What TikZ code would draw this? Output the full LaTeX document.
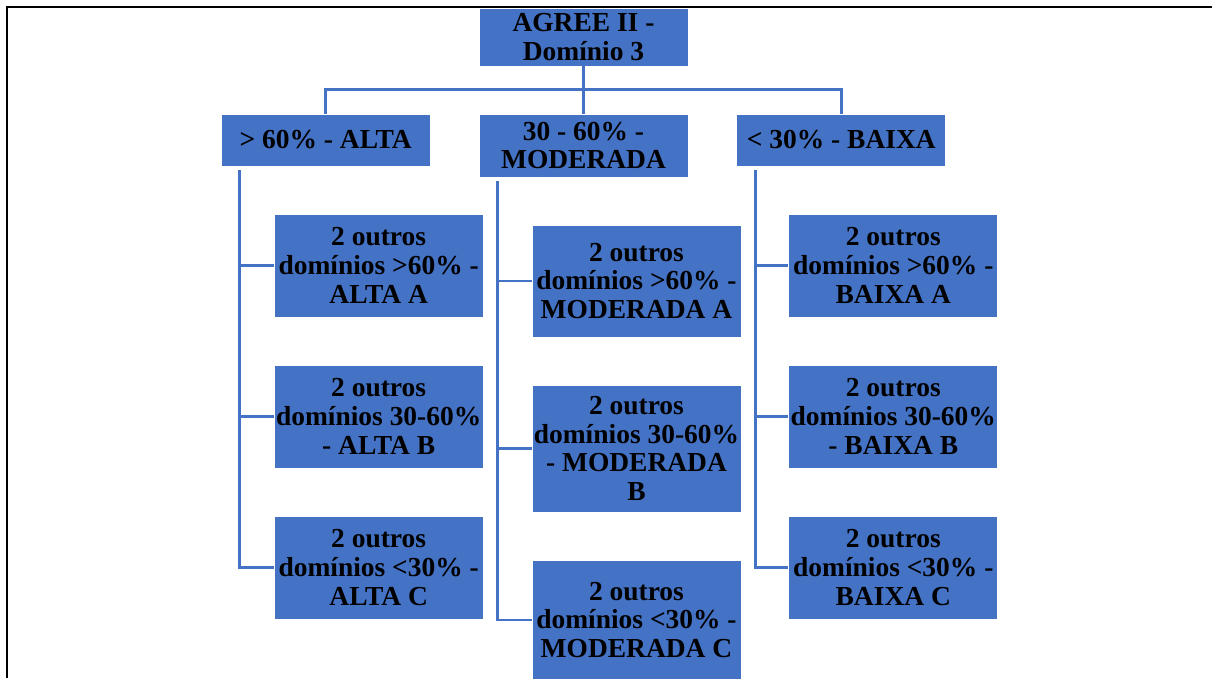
\documentclass[tikz,border=0pt]{standalone}
\usepackage{fontspec}
\setmainfont{Liberation Serif}
\usetikzlibrary{positioning, calc}
\definecolor{sBlue}{HTML}{4472C4}

\begin{document}
\begin{tikzpicture}[node distance=35.4pt,
    box/.style={draw=white, line width=0.6pt, fill=sBlue, align=center,
      minimum width=156.75pt, inner xsep=1pt, inner ysep=2pt,
      font=\fontsize{20.6}{21.5}\selectfont\bfseries},
    link/.style={draw=sBlue, line width=2pt}]
  \useasboundingbox (0,0) rectangle (909pt,-508.5pt);
  \draw[line width=1.6pt] (5.25pt,-508.5pt) -- (5.25pt,-5.25pt) -- (909pt,-5.25pt);

  \node[box, minimum height=43.5pt] (root) at (437.6pt,-27.75pt) {AGREE II -\\Domínio 3};
  \node[box, minimum height=47.25pt, below=of root] (moderada) {30 - 60\% -\\MODERADA};
  \node[box, minimum height=39pt, left=36pt of moderada.north west, anchor=north east]
    (alta) {> 60\% - ALTA};
  \node[box, minimum height=39pt, right=36pt of moderada.north east, anchor=north west]
    (baixa) {< 30\% - BAIXA};

  % left column
  \node[box, minimum height=77.25pt, below=of alta.south west, anchor=north west,
        xshift=39.75pt] (altaA) {2 outros\\domínios >60\% -\\ALTA A};
  \node[box, minimum height=77.25pt, below=of altaA] (altaB)
    {2 outros\\domínios 30-60\%\\- ALTA B};
  \node[box, minimum height=77.25pt, below=of altaB] (altaC)
    {2 outros\\domínios <30\% -\\ALTA C};

  % middle column
  \node[box, minimum height=84pt, below=of moderada.south west, anchor=north west,
        xshift=39.75pt] (moderadaA) {2 outros\\domínios >60\% -\\MODERADA A};
  \node[box, minimum height=95.25pt, below=of moderadaA] (moderadaB)
    {2 outros\\domínios 30-60\%\\- MODERADA\\B};
  \node[box, minimum height=90pt, below=of moderadaB] (moderadaC)
    {2 outros\\domínios <30\% -\\MODERADA C};

  % right column
  \node[box, minimum height=77.25pt, below=of baixa.south west, anchor=north west,
        xshift=39pt] (baixaA) {2 outros\\domínios >60\% -\\BAIXA A};
  \node[box, minimum height=77.25pt, below=of baixaA] (baixaB)
    {2 outros\\domínios 30-60\%\\- BAIXA B};
  \node[box, minimum height=77.25pt, below=of baixaB] (baixaC)
    {2 outros\\domínios <30\% -\\BAIXA C};

  \draw[link] (root) -- (moderada);
  \draw[link] (alta.north) -- ++(0,18pt) -| (baixa.north);
  \foreach \c in {alta, moderada, baixa} {
    \coordinate (\c T) at ($(\c.south west)+(14.25pt,-3pt)$);
    \foreach \k in {A, B, C}
      \draw[link] (\c T) |- (\c\k.west);
  }
\end{tikzpicture}
\end{document}
